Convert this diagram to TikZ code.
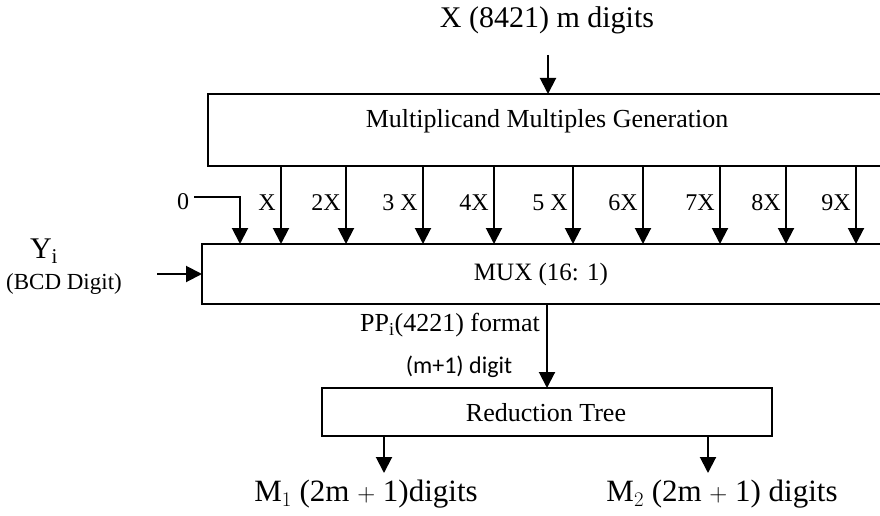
\documentclass[tikz,border=0pt]{standalone}
\usepackage{fontspec}
\setmainfont{Liberation Serif}
\newfontfamily\calib{Carlito}
\usetikzlibrary{arrows.meta}
\tikzset{
  blk/.style={draw, line width=1.4pt},
  arr/.style={line width=2pt, -{Triangle[length=16pt,width=16pt]}},
  lbl/.style={inner sep=0pt, font=\fontsize{24}{26}\selectfont},
  txt/.style={inner sep=0pt},
}
\begin{document}
\begin{tikzpicture}[x=1pt,y=1pt]
\useasboundingbox (0,0) rectangle (880,-516);
% blocks
\draw[blk] (208,-94) rectangle (886,-166);
\node[txt, font=\fontsize{26}{28}\selectfont] (gen) at (547,-121) {Multiplicand Multiples Generation};
\draw[blk] (202,-244) rectangle (886,-304);
\node[txt, font=\fontsize{25}{27}\selectfont] (mux) at (541,-274) {MUX (16: 1)};
\draw[blk] (322,-388) rectangle (772,-436);
\node[txt, font=\fontsize{26}{28}\selectfont] (red) at (546,-413) {Reduction Tree};
% coordinates
\coordinate (gtop) at (548,-94);
\coordinate (xin) at (548,-55);
\node[txt, font=\fontsize{30}{32}\selectfont] (title) at (547,-20) {X (8421) m digits};
\draw[arr] (xin) -- (gtop);
% multiples
\foreach \x/\l in {281/X,346/2X,423/3 X,494/4X,573/5 X,643/6X,720/7X,786/8X,856/9X}{
  \coordinate (s\x) at (\x,-166);
  \coordinate (e\x) at (\x,-244);
  \draw[arr] (s\x) -- (e\x);
  \node[lbl, anchor=east] (l\x) at (\x-5,-203) {\l};
}
\node[lbl] (zero) at (183,-202) {0};
\coordinate (zc) at (240,-197);
\coordinate (ze) at (240,-244);
\draw[arr] (zero.east) ++(5,5) -- (zc) -- (ze);
% Y input
\node[txt, font=\fontsize{30}{32}\selectfont] (yi) at (44,-251) {Y$_{\mathrm{i}}$};
\node[txt, font=\fontsize{23}{25}\selectfont] (bcd) at (64,-284) {(BCD Digit)};
\coordinate (ys) at (157,-274);
\coordinate (ye) at (202,-274);
\draw[arr] (ys) -- (ye);
% MUX out
\coordinate (mo) at (547,-304);
\coordinate (ri) at (547,-388);
\draw[arr] (mo) -- (ri);
\node[txt, anchor=east, font=\fontsize{26}{28}\selectfont] (pp) at (540,-325) {PP$_{\mathrm{i}}$(4221) format};
\node[txt, font=\calib\fontsize{24}{26}\selectfont] (md) at (459,-367) {(m+1) digit};
% outputs
\coordinate (o1s) at (384,-436);
\coordinate (o1e) at (384,-473);
\coordinate (o2s) at (708,-436);
\coordinate (o2e) at (708,-473);
\draw[arr] (o1s) -- (o1e);
\draw[arr] (o2s) -- (o2e);
\node[txt, font=\fontsize{31}{33}\selectfont] (m1) at (366,-494) {M$_1$ (2m $+$ 1)digits};
\node[txt, font=\fontsize{31}{33}\selectfont] (m2) at (722,-494) {M$_2$ (2m $+$ 1) digits};
\end{tikzpicture}
\end{document}
